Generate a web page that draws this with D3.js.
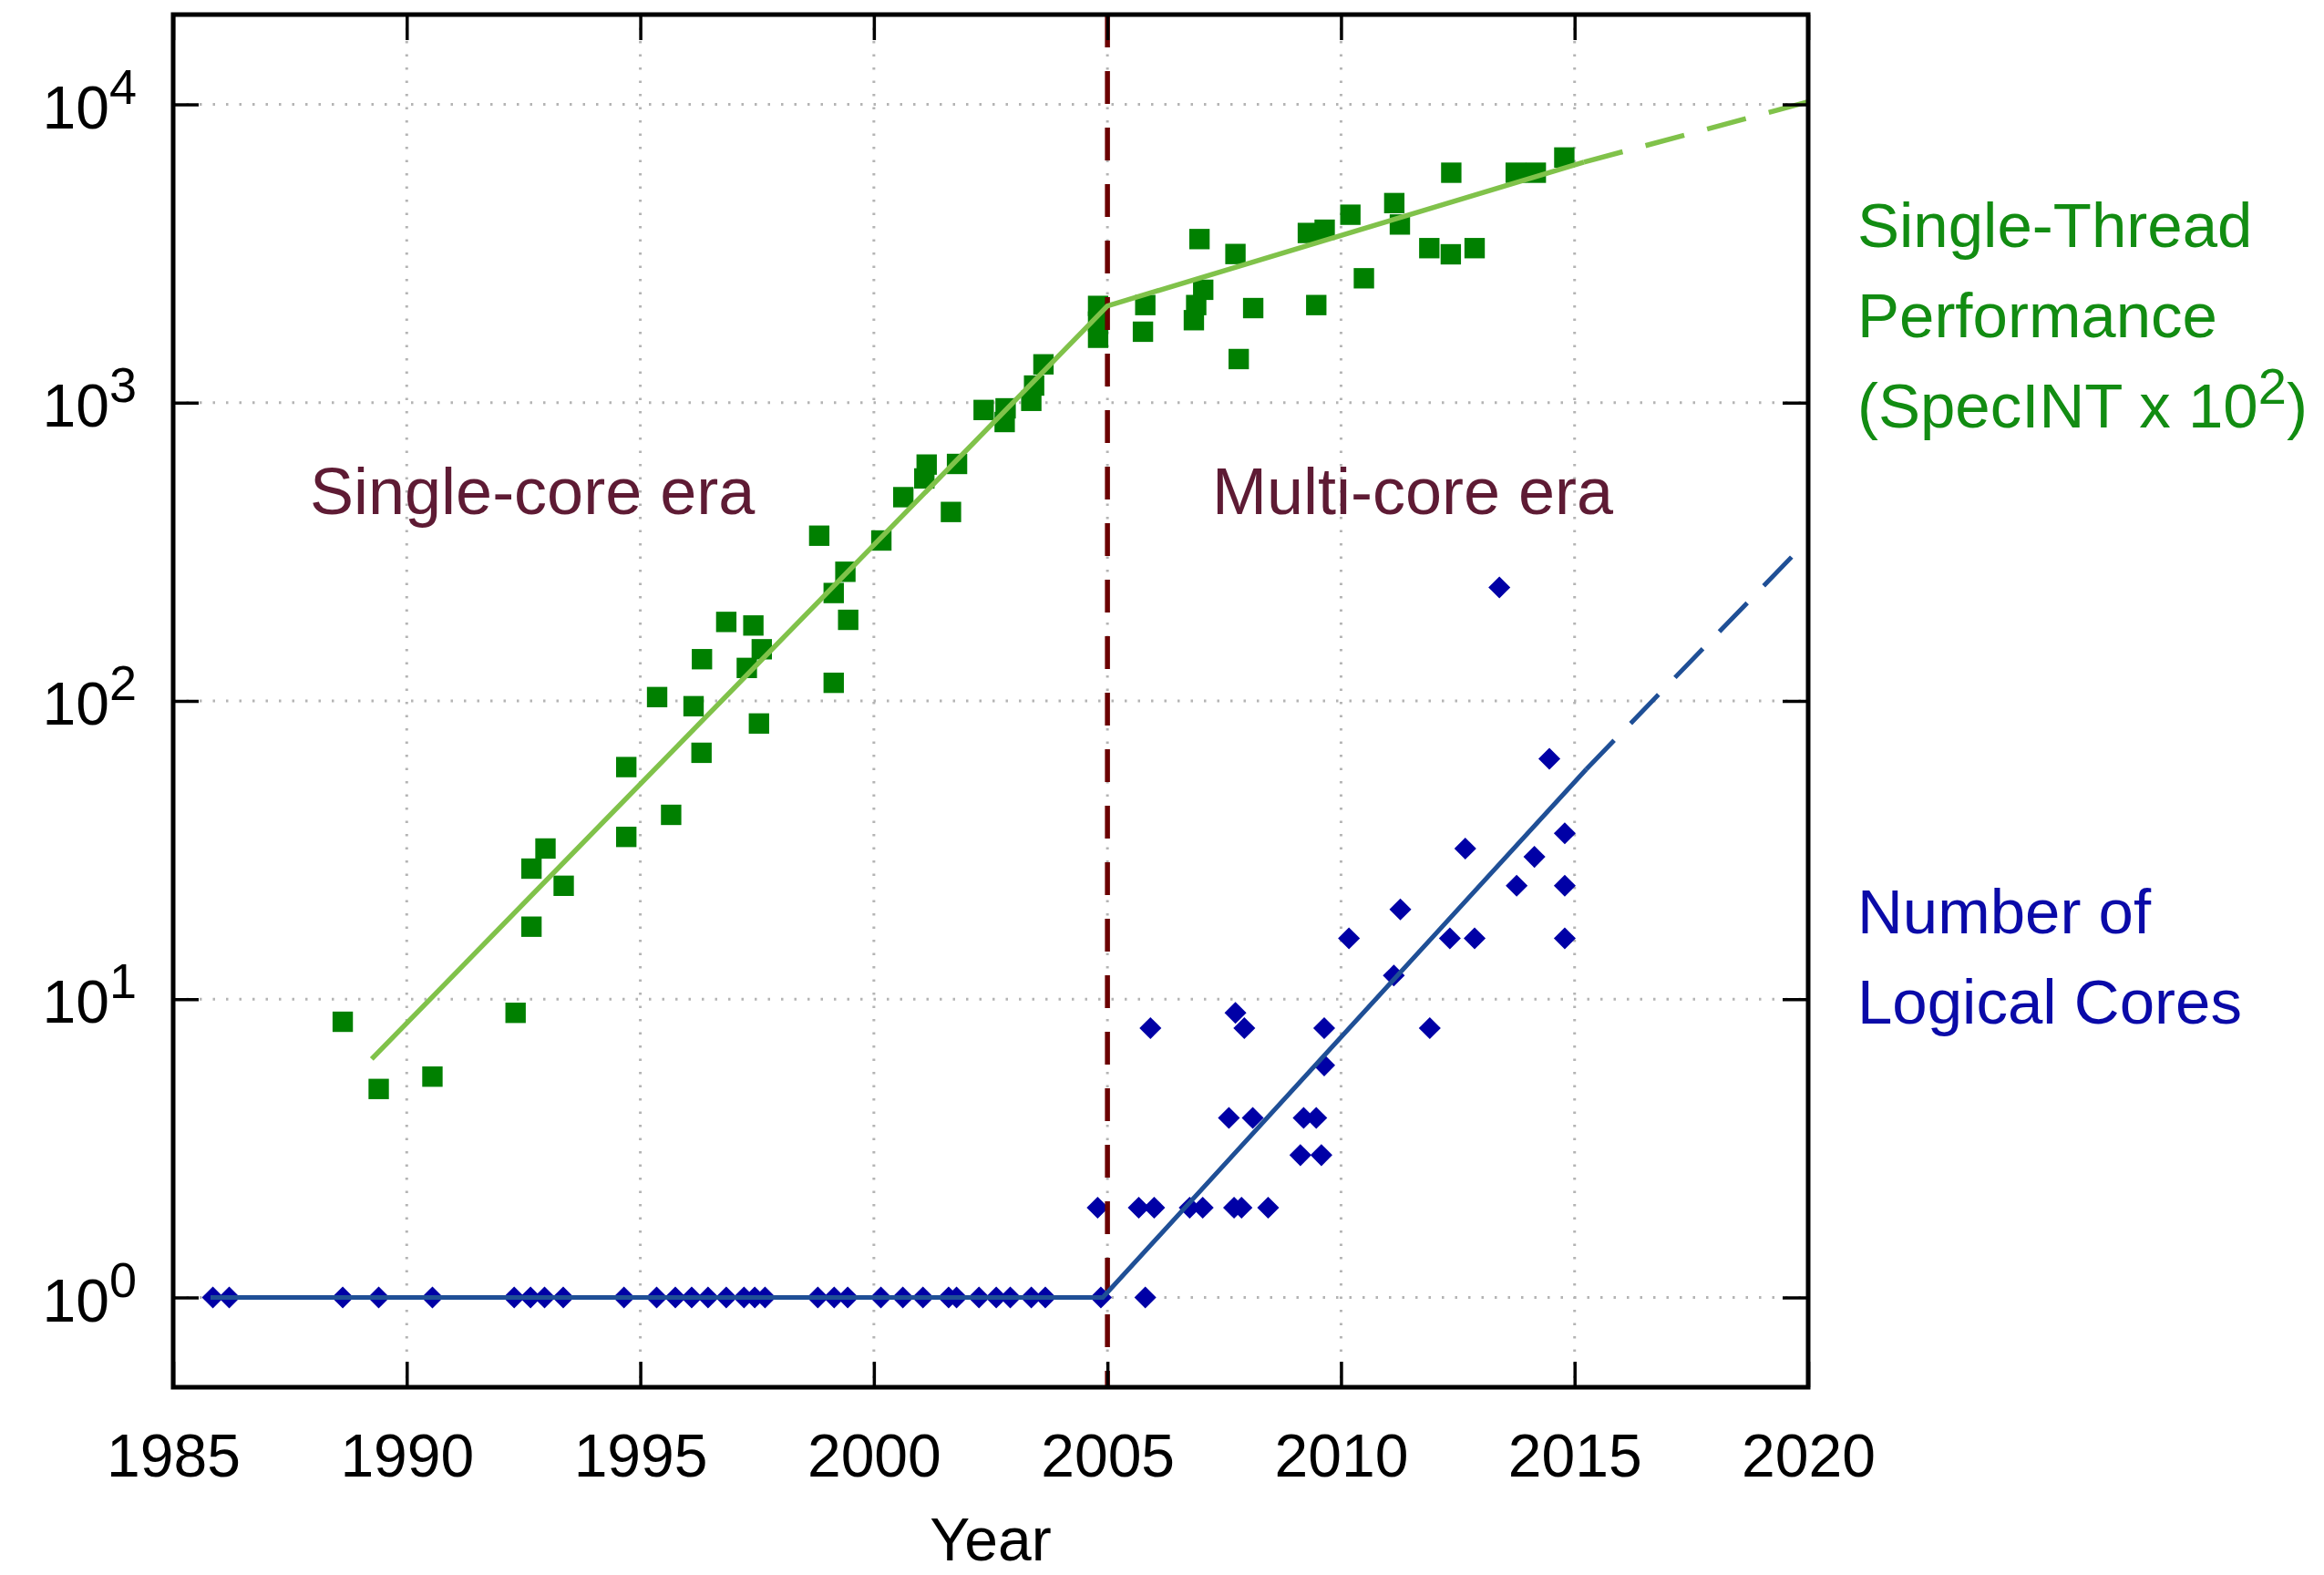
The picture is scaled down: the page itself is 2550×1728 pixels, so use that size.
<!DOCTYPE html>
<html><head><meta charset="utf-8">
<script src="https://cdn.jsdelivr.net/npm/d3@7"></script>
<style>
html,body{margin:0;padding:0;background:#fff;}
svg{display:block;}
text{font-family:"Liberation Sans", Arial, Helvetica, sans-serif;}
</style></head><body>
<svg id="chart" width="2550" height="1728"></svg>
<script>
// ---------- data ----------
const xTicks = [1985, 1990, 1995, 2000, 2005, 2010, 2015, 2020];
const yTicks = [1, 10, 100, 1000, 10000];
const yTickExponents = ["0", "1", "2", "3", "4"];

// Single-thread performance (SpecINT x 10^2): [year, value]
const perfPoints = [
  [1988.63, 8.4], [1989.40, 5.0], [1990.55, 5.5], [1992.33, 9.0], [1992.67, 17.5],
  [1992.67, 27.4], [1992.97, 32], [1993.36, 24], [1994.70, 35], [1994.70, 60],
  [1995.36, 103], [1995.66, 41.5], [1996.14, 96], [1996.31, 67], [1996.32, 138],
  [1996.84, 184], [1997.28, 129], [1997.42, 179], [1997.54, 84], [1997.60, 149],
  [1998.83, 358], [1999.14, 115], [1999.14, 230], [1999.39, 271], [1999.45, 187],
  [2000.16, 345], [2000.63, 482], [2001.08, 557], [2001.13, 620], [2001.65, 430],
  [2001.78, 623], [2002.35, 945], [2002.82, 957], [2002.80, 861], [2003.37, 1014],
  [2003.43, 1141], [2003.63, 1344], [2004.80, 2110], [2004.80, 1870], [2004.80, 1650],
  [2005.81, 2124], [2005.76, 1729], [2006.85, 1890], [2006.90, 2124], [2006.97, 3535],
  [2007.05, 2390], [2007.74, 3150], [2007.81, 1400], [2008.12, 2075], [2009.29, 3705],
  [2009.47, 2124], [2009.65, 3800], [2010.20, 4266], [2010.49, 2612], [2011.14, 4667],
  [2011.26, 3956], [2011.89, 3296], [2012.35, 3143], [2012.36, 5900], [2012.86, 3296],
  [2013.74, 5900], [2014.17, 5900], [2014.78, 6635]
];

// Number of logical cores: [year, cores]
const coresPoints = [
  [1985.85, 1], [1986.20, 1], [1988.63, 1], [1989.40, 1], [1990.55, 1], [1992.30, 1],
  [1992.65, 1], [1992.95, 1], [1993.35, 1], [1994.65, 1], [1995.35, 1], [1995.75, 1],
  [1996.10, 1], [1996.45, 1], [1996.84, 1], [1997.22, 1], [1997.45, 1], [1997.67, 1],
  [1998.80, 1], [1999.15, 1], [1999.44, 1], [2000.15, 1], [2000.62, 1], [2001.05, 1],
  [2001.60, 1], [2001.77, 1], [2002.25, 1], [2002.62, 1], [2002.92, 1], [2003.37, 1],
  [2003.67, 1], [2004.86, 1], [2005.81, 1],
  [2004.79, 2], [2005.67, 2], [2006.00, 2], [2006.76, 2], [2007.04, 2], [2007.71, 2],
  [2007.87, 2], [2008.44, 2],
  [2005.92, 8], [2007.74, 9], [2007.93, 8], [2007.60, 4], [2008.11, 4], [2009.20, 4],
  [2009.47, 4], [2009.13, 3], [2009.58, 3], [2009.64, 6], [2009.64, 8], [2010.17, 16],
  [2011.13, 12], [2011.27, 20], [2011.90, 8], [2012.33, 16], [2012.66, 32], [2012.86, 16],
  [2013.39, 240], [2013.76, 24], [2014.14, 30], [2014.46, 64], [2014.79, 36],
  [2014.79, 24], [2014.79, 16]
];

// trend lines
const perfTrendSolid = [[1989.25, 6.3], [2005.0, 2110], [2015.2, 6400]];
const perfTrendDashed = [[2015.2, 6400], [2020.0, 10200]];
const coresTrendSolid = [[1985.8, 1], [2004.9, 1], [2015.25, 59]];
const coresTrendDashed = [[2015.25, 59], [2019.7, 310]];
const eraDividerYear = 2005;

const eraLabels = ["Single-core era", "Multi-core era"];
const perfLabelLines = ["Single-Thread", "Performance"];
const coresLabelLines = ["Number of", "Logical Cores"];

// ---------- drawing ----------
const svg = d3.select("#chart");
const L = 190, R = 1984, T = 16, B = 1522;
const x = d3.scaleLinear().domain([1985, 2020]).range([L, R]);
const y = d3.scaleLog().domain([0.5, 20000]).range([B, T]);

svg.append("rect").attr("width", 2550).attr("height", 1728).attr("fill", "#fff");

// grid (dotted)
const grid = svg.append("g").attr("stroke", "#b4b4b4").attr("stroke-width", 3)
  .attr("stroke-dasharray", "2.5,12");
grid.selectAll("line.gx").data(xTicks.slice(1, -1)).join("line").attr("class", "gx")
  .attr("x1", d => x(d)).attr("x2", d => x(d)).attr("y1", T).attr("y2", B);
grid.selectAll("line.gy").data(yTicks).join("line").attr("class", "gy")
  .attr("x1", L).attr("x2", R).attr("y1", d => y(d)).attr("y2", d => y(d));

// markers
svg.append("g").selectAll("path").data(perfPoints).join("path")
  .attr("transform", d => `translate(${x(d[0])},${y(d[1])})`)
  .attr("d", d3.symbol(d3.symbolSquare, 500))
  .attr("fill", "#008000");

svg.append("g").selectAll("path").data(coresPoints).join("path")
  .attr("transform", d => `translate(${x(d[0])},${y(d[1])}) rotate(45)`)
  .attr("d", d3.symbol(d3.symbolSquare, 290))
  .attr("fill", "#0000a6");

// era divider
svg.append("line")
  .attr("x1", x(eraDividerYear)).attr("x2", x(eraDividerYear))
  .attr("y1", T).attr("y2", B)
  .attr("stroke", "#6b0000").attr("stroke-width", 5.5)
  .attr("stroke-dasharray", "36,26");

// trend lines
const line = d3.line().x(d => x(d[0])).y(d => y(d[1]));
svg.append("path").datum(perfTrendSolid).attr("d", line)
  .attr("fill", "none").attr("stroke", "#80c24a").attr("stroke-width", 5.5);
svg.append("path").datum(perfTrendDashed).attr("d", line)
  .attr("fill", "none").attr("stroke", "#80c24a").attr("stroke-width", 5.5)
  .attr("stroke-dasharray", "44,26");
svg.append("path").datum(coresTrendSolid).attr("d", line)
  .attr("fill", "none").attr("stroke", "#1f4f96").attr("stroke-width", 5);
svg.append("path").datum(coresTrendDashed).attr("d", line)
  .attr("fill", "none").attr("stroke", "#1f4f96").attr("stroke-width", 5)
  .attr("stroke-dasharray", "44,26");

// axes (inward ticks on all four sides)
function styleAxis(g) {
  g.select(".domain").remove();
  g.selectAll(".tick line").attr("stroke", "#000").attr("stroke-width", 3.5);
  g.selectAll(".tick text").attr("fill", "#000").attr("font-size", 66)
    .attr("font-family", '"Liberation Sans", Arial, Helvetica, sans-serif');
}
svg.append("g").attr("transform", `translate(0,${B})`)
  .call(d3.axisBottom(x).tickValues(xTicks).tickSize(-28).tickPadding(51).tickFormat(d3.format("d")))
  .call(styleAxis);
svg.append("g").attr("transform", `translate(0,${T})`)
  .call(d3.axisTop(x).tickValues(xTicks).tickSize(-28).tickFormat(""))
  .call(styleAxis);
const leftAxis = svg.append("g").attr("transform", `translate(${L},0)`)
  .call(d3.axisLeft(y).tickValues(yTicks).tickSize(-28).tickPadding(40))
  .call(styleAxis);
leftAxis.selectAll(".tick text").each(function (d) {
  const t = d3.select(this);
  t.text(null).attr("dy", "0.39em");
  t.append("tspan").text("10");
  t.append("tspan").attr("font-size", 54).attr("dy", -27).text(yTickExponents[yTicks.indexOf(d)]);
});
svg.append("g").attr("transform", `translate(${R},0)`)
  .call(d3.axisRight(y).tickValues(yTicks).tickSize(-28).tickFormat(""))
  .call(styleAxis);

// frame
svg.append("rect").attr("x", L).attr("y", T).attr("width", R - L).attr("height", B - T)
  .attr("fill", "none").attr("stroke", "#000").attr("stroke-width", 5);

// x axis title
svg.append("text").attr("x", (L + R) / 2).attr("y", 1712).attr("text-anchor", "middle")
  .attr("font-size", 66).attr("fill", "#000").text("Year");

// era labels
svg.append("text").attr("x", 340).attr("y", 564).attr("font-size", 72)
  .attr("fill", "#5e1b34").text(eraLabels[0]);
svg.append("text").attr("x", 1330).attr("y", 564).attr("font-size", 72)
  .attr("fill", "#5e1b34").text(eraLabels[1]);

// right-hand series labels
const perfLbl = svg.append("g").attr("fill", "#128c12").attr("font-size", 69);
perfLabelLines.forEach((s, i) => {
  perfLbl.append("text").attr("x", 2038).attr("y", 271 + i * 99).text(s);
});
const specT = perfLbl.append("text").attr("x", 2038).attr("y", 469);
specT.append("tspan").text("(SpecINT x 10");
specT.append("tspan").attr("font-size", 56).attr("dy", -26).text("2");
specT.append("tspan").attr("dy", 26).text(")");

const coresLbl = svg.append("g").attr("fill", "#0a0aa8").attr("font-size", 69);
coresLabelLines.forEach((s, i) => {
  coresLbl.append("text").attr("x", 2038).attr("y", 1024 + i * 99).text(s);
});
</script>
</body></html>
